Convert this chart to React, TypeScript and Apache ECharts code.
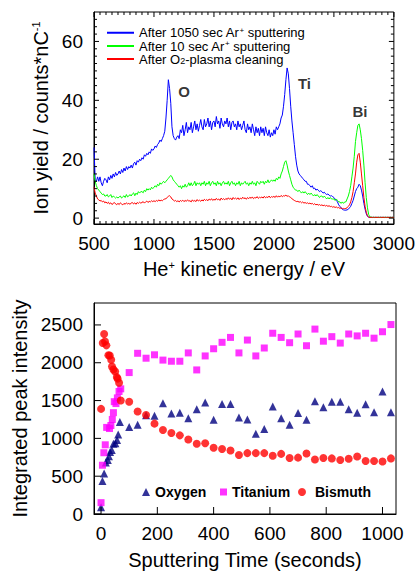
import React, { useEffect, useRef } from 'react';
import * as echarts from 'echarts';

// ---------- Top chart: ion yield spectra (10 eV sampling from 500 eV) ----------
const energyStart = 500;
const energyStep = 10;

const after1050sSputter = [
  24, 13, 12.5, 14, 12.5, 14, 12, 11, 12.5, 13.5, // 500
  13, 12, 14, 13, 14.5, 13.5, 15, 14, 15.5, 14.5, // 600
  15, 16, 15, 16.5, 15.5, 17, 16, 17.5, 16.5, 17.5, // 700
  17, 18, 17, 18.5, 19, 18, 19.5, 19, 20, 19.5, // 800
  20.5, 20, 21.5, 21, 22, 21.5, 22.5, 22, 23.5, 23, // 900
  23.5, 24.5, 24, 25, 25.5, 26.5, 26, 27, 28, 29.5, // 1000
  34, 40, 47, 44, 39, 31, 28, 27, 26.5, 27.5, // 1100
  28, 27, 30, 29, 31.5, 28, 30, 32.5, 29, 31, // 1200
  30, 32.5, 29, 31, 33, 30, 32, 29.5, 31.5, 33.5, // 1300
  31, 30, 33.5, 31, 32, 34, 31, 33, 30, 32.5, // 1400
  33, 31, 34.5, 32, 33, 30.5, 34, 32, 31, 33, // 1500
  32, 34, 31, 33, 30, 32.5, 33, 31, 32, 30, // 1600
  33, 31, 32, 30, 31.5, 33, 30, 29, 32, 30, // 1700
  31, 29, 32, 30, 28, 31, 29, 30.5, 28, 31, // 1800
  29, 30.5, 28, 31, 29, 28, 30, 27.5, 29, 28, // 1900
  30, 28.5, 31, 30, 31, 32, 34, 35, 38, 42, // 2000
  47, 51, 49, 44, 38, 33, 29, 25, 21, 18, // 2100
  16, 15, 14.5, 14, 13.5, 13, 12.5, 12.5, 11.5, 11.5, // 2200
  11, 10.5, 11, 10, 10.2, 9.5, 9.8, 9.5, 9, 9.3, // 2300
  9, 8.5, 8.8, 8.3, 8, 8.2, 7.8, 7.5, 7.6, 7.3, // 2400
  7, 6.5, 6, 5.5, 4.5, 4, 3.5, 3, 2.8, 2.7, // 2500
  2.7, 2.8, 3, 3.5, 4, 5, 6, 7.5, 9, 10, // 2600
  10.5, 11.5, 11, 9.5, 7.5, 5, 3, 1.5, 0.6, 0.3, // 2700
  0.2, 0.3, 0.2, 0.3, 0.2, 0.3, 0.2, 0.3, 0.2, 0.3, // 2800
  0.2, 0.3, 0.2, 0.3, 0.2, 0.3, 0.2, 0.3, 0.2, 0.3, 0.2, // 2900-3000
];

const after10sSputter = [
  15, 12.5, 11, 10, 9.5, 9, 8.5, 8, 8.2, 7.5, // 500
  7.5, 8, 7.2, 7.5, 8, 7, 7.5, 7.2, 6.8, 7.2, // 600
  6.8, 7.2, 7.5, 6.8, 7.2, 7.6, 7, 8, 7.2, 7.5, // 700
  8, 7.5, 8.2, 8.6, 7.6, 8.5, 8, 9, 8.5, 9, // 800
  9, 8.6, 9.5, 9, 10, 9.5, 10, 9.6, 10.5, 10, // 900
  10.5, 11, 10.5, 11.5, 11, 12, 11.5, 12, 12.5, 12, // 1000
  12.5, 13, 13.5, 14, 14.5, 14, 13, 12.5, 12, 11.5, // 1100
  11, 10.5, 11, 10, 11, 10.5, 11.5, 10.5, 11, 12, // 1200
  11, 12, 11, 11.5, 12.5, 11, 12, 11.5, 12, 11, // 1300
  12, 11.5, 12.5, 11, 12, 11.5, 12.5, 11, 12, 12.5, // 1400
  11.5, 12, 11, 12.5, 11.5, 12, 11, 12, 12.5, 11.5, // 1500
  12, 11.5, 12.5, 11, 12, 12.5, 11.5, 12, 11, 12, // 1600
  11.5, 12.5, 11, 12, 11.5, 12, 12.5, 11.5, 12, 11, // 1700
  12, 11.5, 12.5, 11.5, 12, 11, 12.5, 12, 11.5, 12.5, // 1800
  12, 12.5, 11.5, 12.5, 12, 13, 12, 12.5, 13, 12.5, // 1900
  13, 12.5, 13.5, 13, 14, 13.5, 15, 16, 17.5, 19, // 2000
  19.5, 18, 16, 14.5, 13, 11.5, 10.5, 10, 9.5, 9.5, // 2100
  9, 9.5, 9, 8.5, 9, 8.5, 9, 8.5, 8, 8.5, // 2200
  8, 8.5, 8, 7.5, 8, 7.5, 8, 7.5, 7, 7.5, // 2300
  7.5, 7, 7.5, 7, 6.5, 7, 6.5, 7, 6.5, 6.5, // 2400
  6.5, 6, 6.5, 6, 5.5, 5.5, 5, 5.5, 5, 5.5, // 2500
  5.5, 6.5, 7.5, 9, 11, 14, 17, 21, 26, 29, // 2600
  31.5, 32, 30, 27, 23, 18, 12, 7, 3.5, 1.2, // 2700
  0.4, 0.3, 0.3, 0.2, 0.3, 0.2, 0.3, 0.2, 0.3, 0.2, // 2800
  0.3, 0.2, 0.3, 0.2, 0.3, 0.2, 0.3, 0.2, 0.3, 0.2, 0.3, // 2900-3000
];

const afterO2Plasma = [
  10.5, 8.5, 7.5, 6.5, 6.2, 5.8, 6, 5.5, 5.8, 5.2, // 500
  5.5, 5, 5.4, 4.8, 5.2, 4.6, 5, 5.3, 4.8, 4.6, // 600
  5, 4.6, 5.2, 4.8, 4.5, 5, 4.7, 5.2, 4.8, 5, // 700
  4.7, 5.1, 5.3, 4.8, 5.2, 4.7, 5.3, 5, 5.4, 5.1, // 800
  5.3, 5.6, 5.1, 5.5, 5.8, 5.3, 5.7, 5.5, 5.9, 5.6, // 900
  5.9, 5.6, 6, 5.7, 6.2, 5.8, 6.1, 5.9, 6.3, 6.5, // 1000
  6.6, 7, 7.4, 7.6, 7.2, 6.5, 6.2, 5.8, 6, 5.6, // 1100
  5.9, 5.5, 6, 5.7, 6.1, 5.6, 6, 5.7, 6.2, 5.8, // 1200
  5.9, 5.5, 6.2, 5.7, 6, 5.6, 6.3, 5.8, 6.1, 5.7, // 1300
  6.2, 5.8, 6.4, 6, 6.3, 5.9, 6.5, 6.1, 6.6, 6, // 1400
  6.4, 6.1, 6.7, 6.2, 6.5, 6, 6.8, 6.3, 6.6, 6.2, // 1500
  6.7, 6.3, 6.9, 6.4, 6.8, 6.2, 7, 6.5, 6.8, 6.4, // 1600
  6.9, 6.3, 6.8, 6.5, 7.1, 6.6, 6.9, 6.4, 7, 6.6, // 1700
  7.1, 6.7, 7.2, 6.6, 7, 6.8, 7.3, 6.7, 7.1, 6.9, // 1800
  7.2, 6.8, 7.4, 6.9, 7.2, 7, 7.5, 6.9, 7.3, 7.1, // 1900
  7.4, 7, 7.6, 7.1, 7.5, 7.2, 7.7, 7.3, 7.6, 7.5, // 2000
  7.8, 7.4, 7.6, 7.2, 7, 6.6, 6.3, 6, 5.8, 5.6, // 2100
  5.7, 5.4, 5.6, 5.2, 5.5, 5.1, 5.3, 5, 5.2, 4.9, // 2200
  5.1, 4.8, 5, 4.6, 4.9, 4.5, 4.7, 4.4, 4.6, 4.3, // 2300
  4.5, 4.2, 4.4, 4.1, 4.3, 4, 4.2, 3.9, 4, 3.7, // 2400
  3.9, 3.6, 3.8, 3.5, 3.6, 3.3, 3.5, 3.2, 3.3, 3.2, // 2500
  3.3, 3.5, 4, 4.5, 5.5, 7, 9, 12, 15, 19, // 2600
  21.5, 22, 19, 15, 11, 7, 4, 2, 0.8, 0.3, // 2700
  0.2, 0.3, 0.2, 0.3, 0.2, 0.3, 0.2, 0.3, 0.2, 0.3, // 2800
  0.2, 0.3, 0.2, 0.3, 0.2, 0.3, 0.2, 0.3, 0.2, 0.3, 0.2, // 2900-3000
];

const spectrumNames = [
  'After 1050 sec Ar+ sputtering',
  'After 10 sec Ar+ sputtering',
  'After O2-plasma cleaning',
];
const spectrumColors = ['#0000ff', '#00ff00', '#ff0000'];

const peakLabels = ['O', 'Ti', 'Bi'];
const peakLabelEnergy = [1250, 2255, 2718];
const peakLabelYield = [43, 45.8, 36.3];

const energyTicks = [500, 1000, 1500, 2000, 2500, 3000];
const energyMinorStep = 50;
const yieldTicks = [0, 20, 40, 60];
const yieldMinorStep = 2.5;
const yieldRange = [-2, 70];

// ---------- Bottom chart: integrated peak intensity vs sputtering time ----------
const timeTicks = [0, 200, 400, 600, 800, 1000];
const timeRange = [-25, 1048];
const intensityTicks = [0, 500, 1000, 1500, 2000, 2500];
const intensityRange = [0, 2790];

const oxygenTime = [0, 5, 11, 17, 24, 28, 32, 38, 44, 51, 57, 61, 67,
  100, 130, 160, 190, 220, 250, 280, 310, 340, 370, 400, 430, 460, 490, 520, 550,
  580, 610, 640, 670, 700, 730, 760, 790, 820, 850, 880, 910, 940, 970, 1000, 1030];
const oxygenIntensity = [90, 435, 535, 680, 715, 765, 820, 845, 930, 935, 980, 1050, 1215,
  1150, 1180, 1305, 1300, 1465, 1330, 1340, 1265, 1385, 1475, 1245, 1455, 1455, 1275, 1250, 1060,
  1125, 1420, 1265, 1180, 1335, 1245, 1490, 1410, 1485, 1485, 1385, 1340, 1450, 1345, 1620, 1345];

const titaniumTime = [0, 5, 10, 15, 20, 30, 35, 40, 44, 47, 53, 58, 64, 70,
  100, 130, 160, 190, 220, 250, 280, 310, 340, 370, 400, 430, 460, 490, 520, 550,
  580, 610, 640, 670, 700, 730, 760, 790, 820, 850, 880, 910, 940, 970, 1000, 1030];
const titaniumIntensity = [150, 645, 810, 915, 1145, 1130, 1170, 1250, 1340, 1485, 1460, 1535, 1620, 1655,
  1870, 2125, 2060, 2105, 2035, 2020, 2020, 2130, 1905, 2090, 2185, 2270, 2335, 2130, 2300, 2090,
  2195, 2390, 2335, 2265, 2380, 2225, 2445, 2285, 2345, 2260, 2380, 2355, 2390, 2325, 2410, 2505];

const bismuthTime = [0, 6, 11, 14, 19, 26, 31, 36, 39, 44, 50, 56, 59, 64, 70,
  100, 130, 160, 190, 220, 250, 280, 310, 340, 370, 400, 430, 460, 490, 520, 550,
  580, 610, 640, 670, 700, 730, 760, 790, 820, 850, 880, 910, 940, 970, 1000, 1030];
const bismuthIntensity = [1390, 2260, 2380, 2280, 2230, 2100, 2095, 2040, 1950, 1910, 1885, 1810, 1790, 1735, 1500,
  1485, 1355, 1310, 1195, 1110, 1070, 1040, 985, 930, 935, 875, 860, 840, 780, 805, 805,
  805, 770, 795, 740, 745, 800, 720, 740, 735, 715, 730, 760, 700, 700, 695, 735];

const elementNames = ['Oxygen', 'Titanium', 'Bismuth'];
const elementColors = ['#000080', '#ff00ff', '#ff0000'];

const FONT = '"Liberation Sans", Arial, Helvetica, sans-serif';

function toPairs(xs: number[], ys: number[]) {
  return ys.map((y, i) => [xs[i], y]);
}

// tick positions (major + minor) with a tick length in px
function tickList(major: number[], minorStep: number, lo: number, hi: number, majorLen: number, minorLen: number) {
  const out: number[][] = [];
  major.forEach((m) => out.push([m, majorLen]));
  if (minorStep > 0) {
    const first = major[0];
    for (let k = 1; ; k++) {
      const v = first - k * minorStep;
      if (v <= lo) break;
      if (!major.some((m) => Math.abs(m - v) < 1e-9)) out.push([v, minorLen]);
    }
    for (let k = 1; ; k++) {
      const v = first + k * minorStep;
      if (v >= hi) break;
      if (!major.some((m) => Math.abs(m - v) < 1e-9)) out.push([v, minorLen]);
    }
  }
  return out;
}

// inward tick marks drawn as thin rect symbols of a scatter series
function tickItems(dir: 'x' | 'y', ticks: number[][], edge: number, sign: number) {
  return ticks.map(([v, len]) =>
    dir === 'x'
      ? { value: [v, edge], symbolSize: [1, len], symbolOffset: [0, (sign * len) / 2] }
      : { value: [edge, v], symbolSize: [len, 1], symbolOffset: [(sign * len) / 2, 0] },
  );
}

function tickScatter(xi: number, yi: number, items: any[]) {
  return {
    type: 'scatter', xAxisIndex: xi, yAxisIndex: yi, silent: true, z: 100, clip: false,
    symbol: 'rect', itemStyle: { color: '#000', opacity: 1 },
    emphasis: { disabled: true }, large: false, animation: false,
    data: items,
  };
}

function buildOption() {
  const energies = after1050sSputter.map((_, i) => energyStart + i * energyStep);
  const spectra = [after1050sSputter, after10sSputter, afterO2Plasma];
  const eRange = [energyTicks[0], energyTicks[energyTicks.length - 1]];

  const ln = () => ({ color: '#000', width: 1 });
  const rich = {
    a: { fontSize: 20, fontFamily: FONT, color: '#000' },
    s: { fontSize: 11, fontFamily: FONT, color: '#000', verticalAlign: 'top', lineHeight: 10 },
  };
  const legendRich = {
    a: { fontSize: 13, fontFamily: FONT, color: '#000', lineHeight: 13.5 },
    s: { fontSize: 8, fontFamily: FONT, color: '#000', verticalAlign: 'top', lineHeight: 6 },
    d: { fontSize: 9, fontFamily: FONT, color: '#000', verticalAlign: 'bottom', lineHeight: 6 },
  };
  const legendFormat = (name: string) => {
    if (name.indexOf('O2') >= 0) return '{a|After O}{d|2}{a|-plasma cleaning}';
    const parts = name.split('Ar+');
    return '{a|' + parts[0] + 'Ar}{s|+}{a|' + parts[1] + '}';
  };

  const plain = (v: number) => String(v);
  const baseLabel = { fontSize: 19, color: '#000', fontFamily: FONT, formatter: plain };
  const common = {
    type: 'value',
    axisLine: { show: true, onZero: false, lineStyle: ln() },
    axisTick: { show: false },
    minorTick: { show: false },
    splitLine: { show: false },
  };

  const topXTicks = tickList(energyTicks, energyMinorStep, eRange[0], eRange[1], 5, 3);
  const topYTicks = tickList(yieldTicks, yieldMinorStep, yieldRange[0], yieldRange[1], 5, 3);
  const botXTicks = tickList(timeTicks, 0, timeRange[0], timeRange[1], 7, 7);
  const botYTicks = tickList(intensityTicks, 0, intensityRange[0], intensityRange[1], 7, 7);

  return {
    animation: false,
    backgroundColor: '#fff',
    grid: [
      { left: 94, top: 12, width: 302, height: 212, show: true, borderColor: '#000', borderWidth: 1 },
      { left: 94, top: 303, width: 302, height: 212, show: true, borderColor: '#000', borderWidth: 1 },
    ],
    xAxis: [
      {
        ...common, gridIndex: 0, position: 'bottom', min: eRange[0], max: eRange[1],
        interval: energyTicks[1] - energyTicks[0],
        axisLabel: { ...baseLabel, margin: 10, showMinLabel: true, showMaxLabel: true },
        name: '{a|He}{s|+}{a| kinetic energy / eV}', nameLocation: 'middle', nameGap: 35,
        nameTextStyle: { fontSize: 20, color: '#000', fontFamily: FONT, rich },
      },
      {
        ...common, gridIndex: 1, position: 'bottom', min: timeRange[0], max: timeRange[1],
        splitNumber: 5, minInterval: timeTicks[1] - timeTicks[0], maxInterval: timeTicks[1] - timeTicks[0],
        axisLabel: { ...baseLabel, margin: 10, showMinLabel: false, showMaxLabel: false },
        name: 'Sputtering Time (seconds)', nameLocation: 'middle', nameGap: 36,
        nameTextStyle: { fontSize: 20, color: '#000', fontFamily: FONT },
      },
    ],
    yAxis: [
      {
        ...common, gridIndex: 0, position: 'left', min: yieldRange[0], max: yieldRange[1],
        splitNumber: 4, minInterval: yieldTicks[1] - yieldTicks[0], maxInterval: yieldTicks[1] - yieldTicks[0],
        axisLabel: { ...baseLabel, margin: 11, showMinLabel: false, showMaxLabel: false },
        name: '{a|Ion yield / counts*nC}{s|-1}', nameLocation: 'middle', nameGap: 41,
        nameTextStyle: { fontSize: 20, color: '#000', fontFamily: FONT, rich },
      },
      {
        ...common, gridIndex: 1, position: 'left', min: intensityRange[0], max: intensityRange[1],
        interval: intensityTicks[1] - intensityTicks[0],
        axisLabel: { ...baseLabel, margin: 11, showMinLabel: true, showMaxLabel: false },
        name: 'Integrated peak intensity', nameLocation: 'middle', nameGap: 60,
        nameTextStyle: { fontSize: 20, color: '#000', fontFamily: FONT },
      },
    ],
    legend: [
      {
        data: spectrumNames, orient: 'vertical', left: 102, top: 21, itemGap: 0,
        itemWidth: 27, itemHeight: 2, icon: 'rect', padding: 5,
        formatter: legendFormat,
        textStyle: { fontSize: 13, color: '#000', fontFamily: FONT, rich: legendRich },
      },
      {
        data: [elementNames[0]], left: 137, top: 480, itemWidth: 8, itemHeight: 8,
        textStyle: { fontSize: 14, fontWeight: 'bold', color: '#000', fontFamily: FONT },
      },
      {
        data: [elementNames[1]], left: 215, top: 480, itemWidth: 7, itemHeight: 7,
        textStyle: { fontSize: 14, fontWeight: 'bold', color: '#000', fontFamily: FONT },
      },
      {
        data: [elementNames[2]], left: 293, top: 480, itemWidth: 8, itemHeight: 8,
        textStyle: { fontSize: 14, fontWeight: 'bold', color: '#000', fontFamily: FONT, padding: [0, 0, 0, 4] },
      },
    ],
    series: [
      ...spectra.map((vals, k) => ({
        name: spectrumNames[k], type: 'line', xAxisIndex: 0, yAxisIndex: 0,
        data: toPairs(energies, vals), showSymbol: false, symbol: 'none',
        lineStyle: { color: spectrumColors[k], width: 1 }, itemStyle: { color: spectrumColors[k] },
        silent: true,
      })),
      {
        name: 'peaks', type: 'scatter', xAxisIndex: 0, yAxisIndex: 0,
        symbolSize: 1, itemStyle: { color: 'rgba(0,0,0,0)' },
        data: peakLabels.map((n, i) => ({ name: n, value: [peakLabelEnergy[i], peakLabelYield[i]] })),
        label: { show: true, position: 'inside', formatter: '{b}', fontSize: 15, fontWeight: 'bold', color: '#000', fontFamily: FONT },
      },
      {
        name: elementNames[0], type: 'scatter', xAxisIndex: 1, yAxisIndex: 1,
        symbol: 'triangle', symbolSize: 8, itemStyle: { color: elementColors[0] },
        data: toPairs(oxygenTime, oxygenIntensity),
      },
      {
        name: elementNames[1], type: 'scatter', xAxisIndex: 1, yAxisIndex: 1,
        symbol: 'rect', symbolSize: 7, itemStyle: { color: elementColors[1] },
        data: toPairs(titaniumTime, titaniumIntensity),
      },
      {
        name: elementNames[2], type: 'scatter', xAxisIndex: 1, yAxisIndex: 1,
        symbol: 'circle', symbolSize: 8, itemStyle: { color: elementColors[2] },
        data: toPairs(bismuthTime, bismuthIntensity),
      },
      // inward axis ticks: top chart on all four sides, bottom chart on bottom and left
      tickScatter(0, 0, [
        ...tickItems('x', topXTicks, yieldRange[0], -1),
        ...tickItems('x', topXTicks, yieldRange[1], 1),
        ...tickItems('y', topYTicks, eRange[0], 1),
        ...tickItems('y', topYTicks, eRange[1], -1),
      ]),
      tickScatter(1, 1, [
        ...tickItems('x', botXTicks, intensityRange[0], -1),
        ...tickItems('y', botYTicks, timeRange[0], 1),
      ]),
    ],
  };
}

export default function App() {
  const ref = useRef<HTMLDivElement>(null);
  useEffect(() => {
    document.body.style.margin = '0';
    const chart = echarts.init(ref.current as HTMLDivElement, null, { renderer: 'svg' });
    chart.setOption(buildOption() as any);
    return () => chart.dispose();
  }, []);
  return <div ref={ref} style={{ width: 418, height: 571 }} />;
}
